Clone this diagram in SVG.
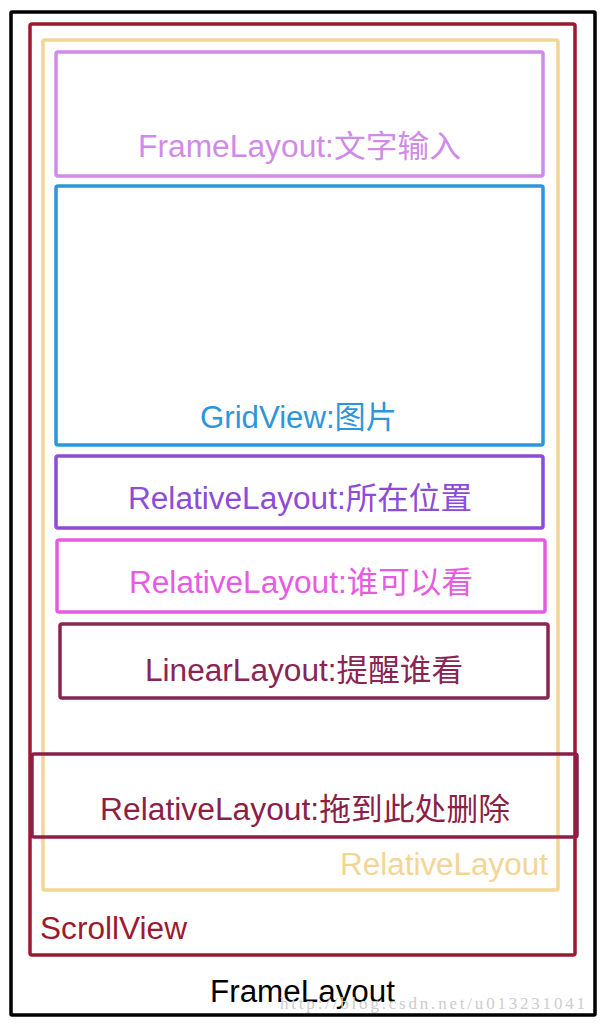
<svg xmlns="http://www.w3.org/2000/svg" width="602" height="1026" viewBox="0 0 602 1026">
<style>
  .box { fill: none; stroke-width: 3.5; }
  .lbl { font-family: "Liberation Sans", "Noto Sans CJK SC", sans-serif; font-size: 31px; }
  .wm { font-family: "Liberation Serif", "DejaVu Serif", serif; font-size: 17px; fill: #cccccc; }
</style>
<rect width="602" height="1026" fill="#ffffff"/>
<g id="framelayout-root">
  <rect class="box" x="11" y="12" width="584" height="1003" rx="1" stroke="#000000" stroke-width="4.5"/>
  <text class="lbl" x="210" y="1002" textLength="185" lengthAdjust="spacingAndGlyphs" fill="#000000">FrameLayout</text>
</g>
<g id="scrollview">
  <rect class="box" x="30" y="24" width="545" height="931" rx="2" stroke="#9b1a2f"/>
  <text class="lbl" x="40" y="939" textLength="147" lengthAdjust="spacingAndGlyphs" fill="#9b1a2f">ScrollView</text>
</g>
<g id="relativelayout-container">
  <rect class="box" x="43" y="40" width="515" height="850" rx="2" stroke="#f3d594"/>
  <text class="lbl" x="340" y="875" textLength="208" lengthAdjust="spacingAndGlyphs" fill="#f3d594">RelativeLayout</text>
</g>
<g id="framelayout-text">
  <rect class="box" x="56" y="52" width="487" height="124" rx="2" stroke="#d08be8"/>
  <text class="lbl" x="138" y="157" textLength="323" lengthAdjust="spacingAndGlyphs" fill="#d08be8">FrameLayout:文字输入</text>
</g>
<g id="gridview">
  <rect class="box" x="56" y="186" width="487" height="259" rx="2" stroke="#2d96db"/>
  <text class="lbl" x="200" y="428" textLength="197" lengthAdjust="spacingAndGlyphs" fill="#2d96db">GridView:图片</text>
</g>
<g id="relativelayout-location">
  <rect class="box" x="56" y="456" width="487" height="72" rx="2" stroke="#8c4cd8"/>
  <text class="lbl" x="128" y="509" textLength="344" lengthAdjust="spacingAndGlyphs" fill="#8c4cd8">RelativeLayout:所在位置</text>
</g>
<g id="relativelayout-visibility">
  <rect class="box" x="57" y="540" width="488" height="72" rx="2" stroke="#e75ae2"/>
  <text class="lbl" x="129" y="593" textLength="344" lengthAdjust="spacingAndGlyphs" fill="#e75ae2">RelativeLayout:谁可以看</text>
</g>
<g id="linearlayout-remind">
  <rect class="box" x="60" y="624" width="488" height="74" rx="2" stroke="#8a2452" stroke-width="4"/>
  <text class="lbl" x="145" y="681" textLength="318" lengthAdjust="spacingAndGlyphs" fill="#8a2452">LinearLayout:提醒谁看</text>
</g>
<g id="relativelayout-delete">
  <rect class="box" x="32" y="754" width="545" height="83" rx="2" stroke="#8b1f47"/>
  <text class="lbl" x="100" y="820" textLength="410" lengthAdjust="spacingAndGlyphs" fill="#8b1f47">RelativeLayout:拖到此处删除</text>
</g>
<g id="connectors"></g>
<text class="wm" x="280" y="1009" textLength="305">http://blog.csdn.net/u013231041</text>
</svg>
